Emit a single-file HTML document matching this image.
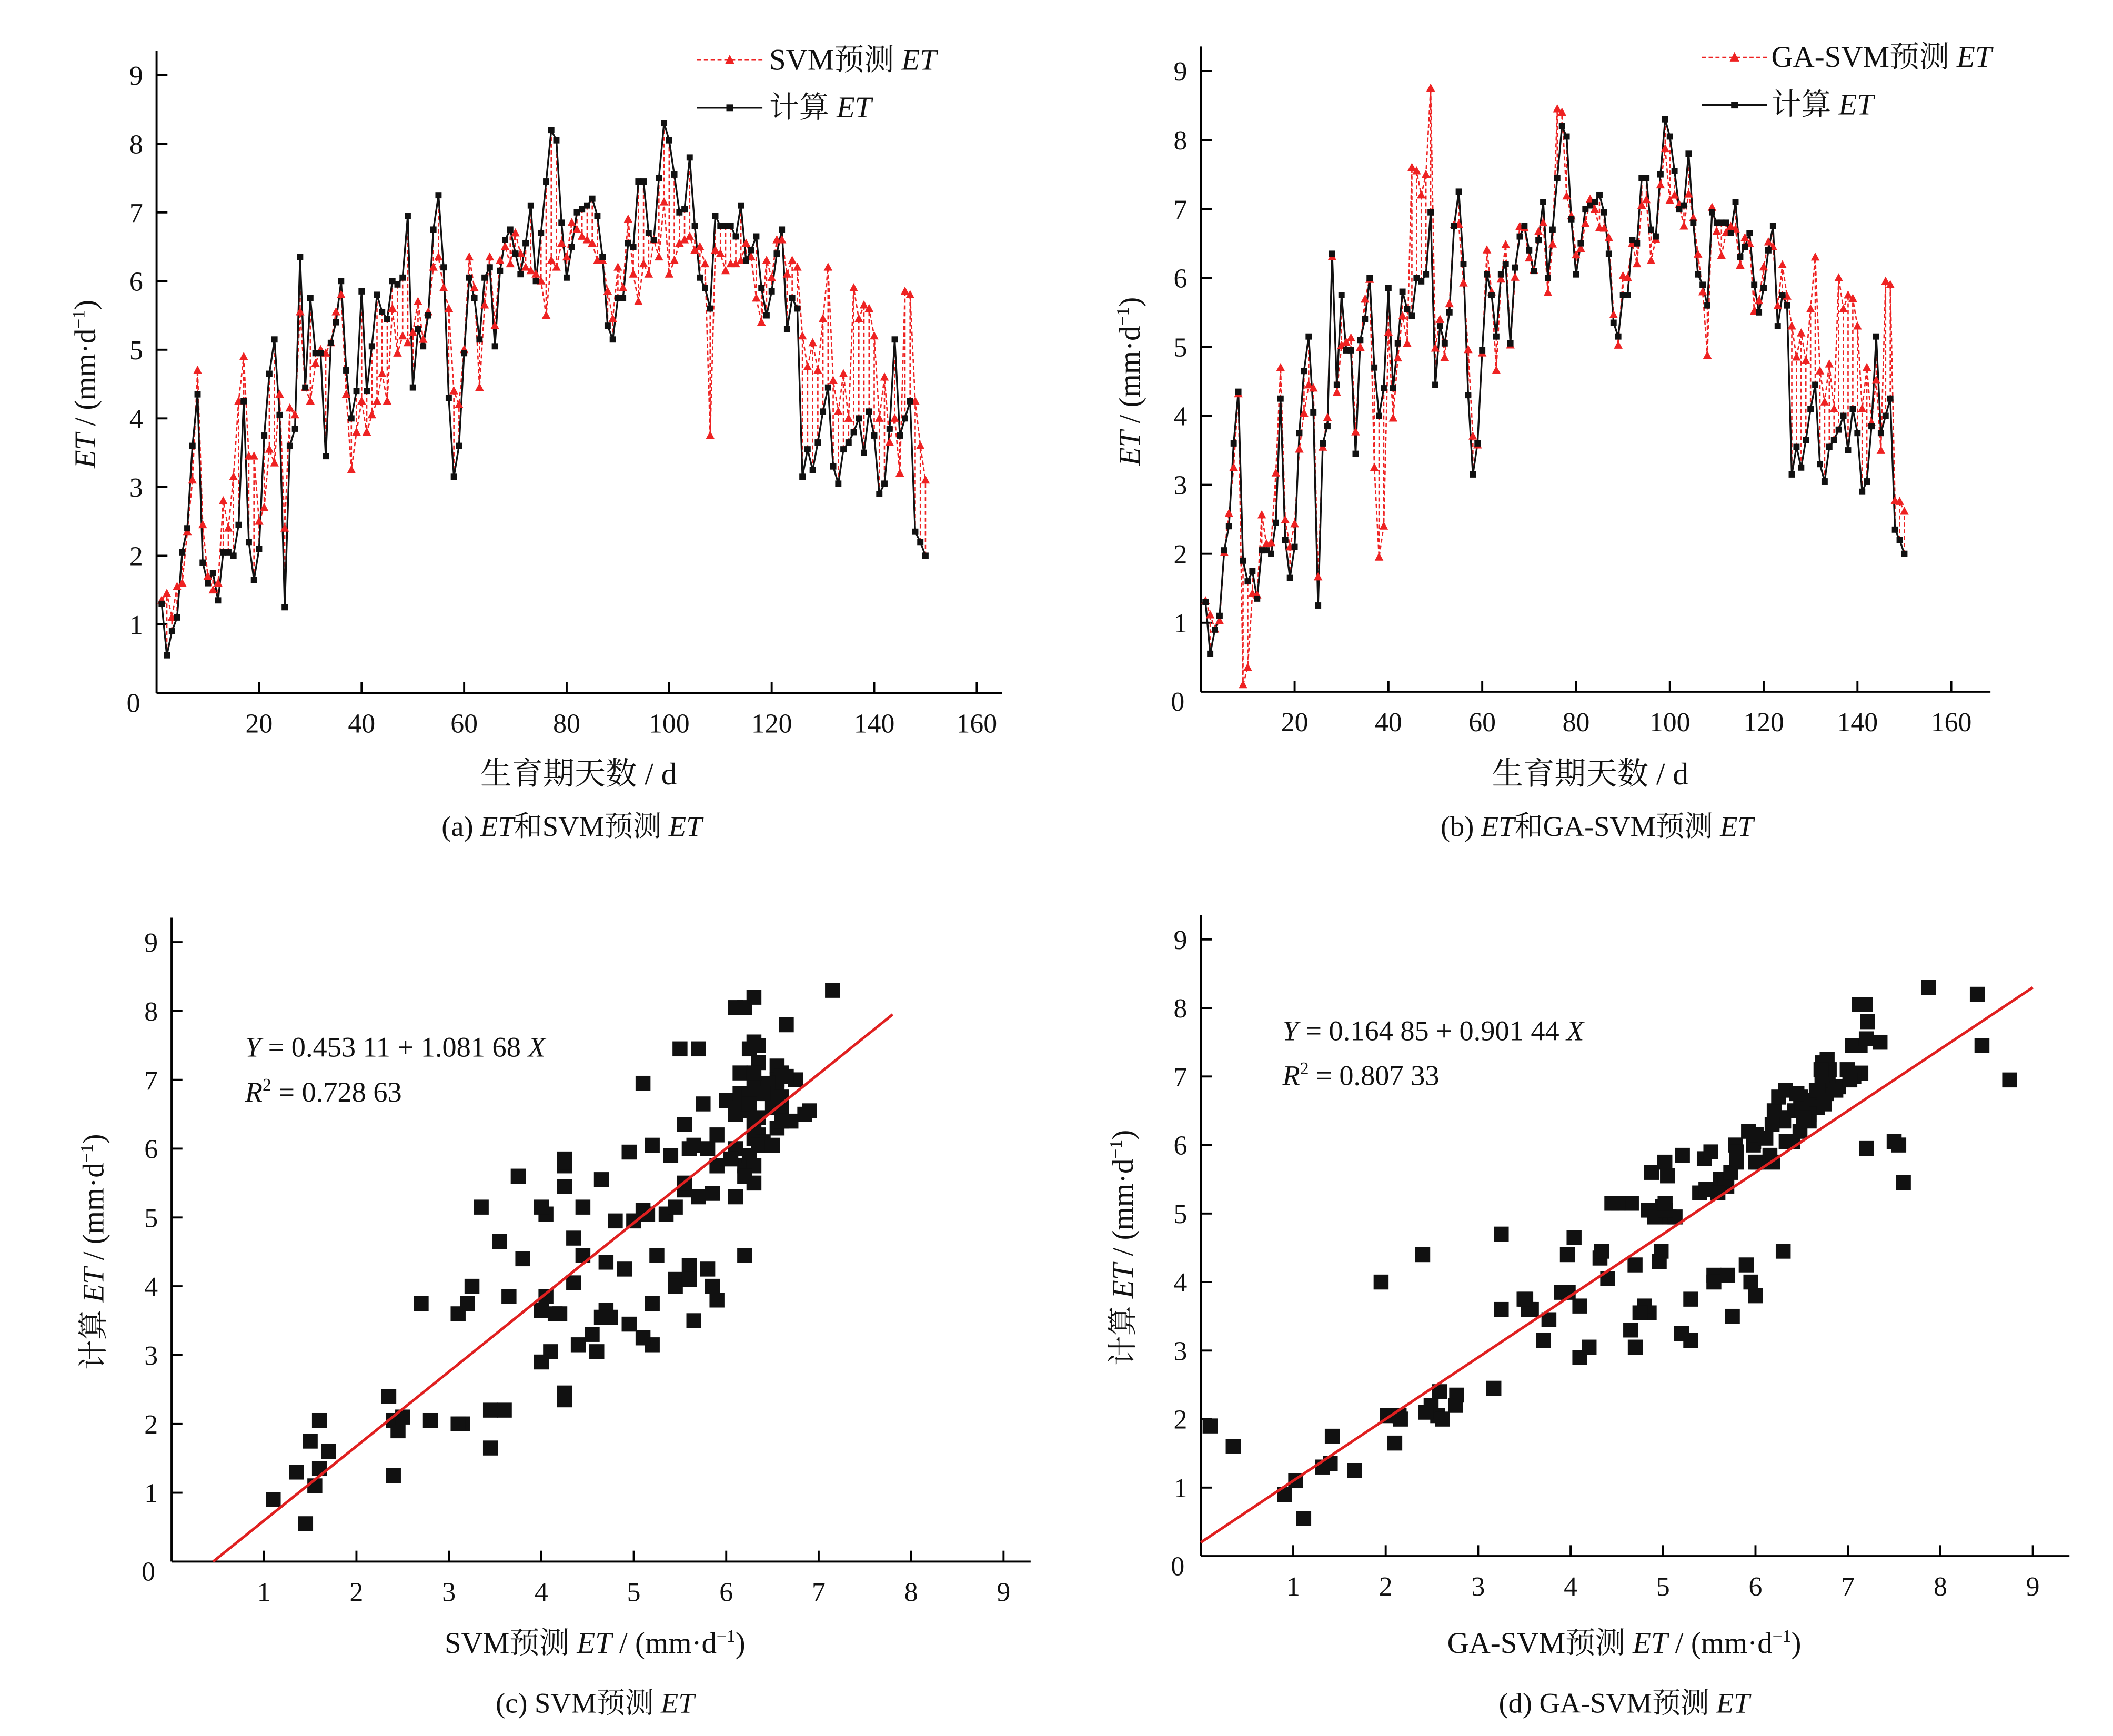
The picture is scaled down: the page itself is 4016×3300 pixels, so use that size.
<!DOCTYPE html>
<html><head><meta charset="utf-8"><style>
html,body{margin:0;padding:0;background:#fff;width:4016px;height:3300px;overflow:hidden}
svg{display:block}
text{font-family:"Liberation Serif","Noto Serif CJK SC",serif;fill:#111}
</style></head><body>
<svg id="s" width="4016" height="3300" viewBox="0 0 1552 1275" xmlns="http://www.w3.org/2000/svg"></svg>
<script>
const B=[1.3,0.55,0.9,1.1,2.05,2.4,3.6,4.35,1.9,1.6,1.75,1.35,2.05,2.05,2.0,2.45,4.25,2.2,1.65,2.1,3.75,4.65,5.15,4.05,1.25,3.6,3.85,6.35,4.45,5.75,4.95,4.95,3.45,5.1,5.4,6.0,4.7,4.0,4.4,5.85,4.4,5.05,5.8,5.55,5.45,6.0,5.95,6.05,6.95,4.45,5.3,5.05,5.5,6.75,7.25,6.2,4.3,3.15,3.6,4.95,6.05,5.75,5.15,6.05,6.2,5.05,6.15,6.6,6.75,6.4,6.1,6.55,7.1,6.0,6.7,7.45,8.2,8.05,6.85,6.05,6.5,7.0,7.05,7.1,7.2,6.95,6.35,5.35,5.15,5.75,5.75,6.55,6.5,7.45,7.45,6.7,6.6,7.5,8.3,8.05,7.55,7.0,7.05,7.8,6.8,6.05,5.9,5.6,6.95,6.8,6.8,6.8,6.65,7.1,6.3,6.45,6.65,5.9,5.5,5.85,6.4,6.75,5.3,5.75,5.6,3.15,3.55,3.25,3.65,4.1,4.45,3.3,3.05,3.55,3.65,3.8,4.0,3.5,4.1,3.75,2.9,3.05,3.85,5.15,3.75,4.0,4.25,2.35,2.2,2.0];
const S=[1.35,1.45,1.1,1.55,1.6,2.35,3.1,4.7,2.45,1.7,1.5,1.6,2.8,2.4,3.15,4.25,4.9,3.45,3.45,2.5,2.7,3.55,3.35,4.35,2.4,4.15,4.05,5.55,4.45,4.25,4.8,5.0,4.95,5.1,5.55,5.8,4.35,3.25,3.8,4.25,3.8,4.05,4.25,4.65,4.25,5.6,4.95,5.2,5.1,5.25,5.7,5.15,5.55,6.2,6.35,5.9,5.6,4.4,4.2,5.0,6.35,5.9,4.45,5.65,6.35,5.35,6.3,6.5,6.25,6.7,6.4,6.2,6.15,6.1,6.0,5.5,6.3,6.2,6.55,6.35,6.85,6.75,6.65,6.6,6.55,6.3,6.3,5.85,5.45,6.2,5.9,6.9,6.1,5.7,6.25,6.1,6.6,6.35,7.15,6.1,6.3,6.55,6.6,6.65,6.45,6.5,6.25,3.75,6.45,6.4,6.15,6.25,6.25,6.3,6.55,6.35,5.75,5.4,6.3,6.05,6.6,6.6,6.1,6.3,6.2,5.2,4.75,5.1,4.7,5.45,6.2,4.55,4.1,4.65,4.0,5.9,5.45,5.65,5.6,5.2,4.0,4.6,3.65,4.0,3.2,5.85,5.8,4.25,3.6,3.1];
const G=B.map((b,i)=>{let g=b+0.35*(S[i]-b)+0.25*Math.sin(i*1.7);return Math.max(0.1,g);});
Object.assign(G,{8:0.1,9:0.35,36:3.25,37:1.95,38:2.4,47:7.5,48:8.75,46:7.2,44:7.6,45:7.55,75:8.45,76:8.4});
for(let i=125;i<147;i++)G[i]=Math.max(G[i],S[i]+0.1);
let o='';
function T(x,y,t,sz,anc,extra){o+=`<text x="${x}" y="${y}" font-size="${sz}" text-anchor="${anc||'middle'}" ${extra||''}>${t}</text>`;}
function L(x1,y1,x2,y2,c,w,d){o+=`<line x1="${x1}" y1="${y1}" x2="${x2}" y2="${y2}" stroke="${c||'#000'}" stroke-width="${w||1.5}" ${d?`stroke-dasharray="${d}"`:''}/>`;}
function axes(ax,y0,y9,xEnd,xs,xticks){
 const sy=(y0-y9)/9;
 L(ax,y0,xEnd,y0);L(ax,y9-18,ax,y0);
 for(let k=1;k<=9;k++){let y=y0-k*sy;L(ax,y,ax+8,y);T(ax-10,y+7,k,20,'end');}
 T(ax-12,y0+14,'0',20,'end');
 xticks.forEach(v=>{let x=xs(v);L(x,y0,x,y0-8);T(x,y0+29,v,20);});
}
function ts(ax,y0,y9,xEnd,per20,R,cx){
 const sy=(y0-y9)/9,X=d=>ax+d*per20/20,Y=v=>y0-v*sy;
 axes(ax,y0,y9,xEnd,X,[20,40,60,80,100,120,140,160]);
 for(let i=0;i<150;i++)L(X(i+1),Y(B[i]),X(i+1),Y(R[i]),'#e22',1,'3,2');
 o+=`<polyline fill="none" stroke="#e22" stroke-width="1" stroke-dasharray="3,2" points="${R.map((v,i)=>X(i+1)+','+Y(v)).join(' ')}"/>`;
 o+=`<polyline fill="none" stroke="#111" stroke-width="1.3" points="${B.map((v,i)=>X(i+1)+','+Y(v)).join(' ')}"/>`;
 R.forEach((v,i)=>{let x=X(i+1),y=Y(v);o+=`<polygon points="${x},${y-3.5} ${x-3.2},${y+2.5} ${x+3.2},${y+2.5}" fill="#e22"/>`;});
 B.forEach((v,i)=>{let x=X(i+1),y=Y(v);o+=`<rect x="${x-2.3}" y="${y-2.3}" width="4.6" height="4.6" fill="#111"/>`;});
 T(ax-45,(y0+y9)/2,'<tspan font-style="italic">ET</tspan> / (mm·d<tspan font-size="13" dy="-8">−1</tspan><tspan dy="8">)</tspan>',22,'middle',`transform="rotate(-90 ${ax-45} ${(y0+y9)/2})"`);
 T(cx,576,'生育期天数 / d',23);
}
ts(115,509,55,736,75.3,S,425);
let lx=512;L(lx,44,lx+48,44,'#e22',1,'3,2');o+=`<polygon points="${lx+24},40 ${lx+20.5},47 ${lx+27.5},47" fill="#e22"/>`;
T(lx+53,51,'SVM预测 <tspan font-style="italic">ET</tspan>',22,'start');
L(lx,79,lx+48,79,'#111',1.3);o+=`<rect x="${lx+21.5}" y="76.5" width="5" height="5" fill="#111"/>`;
T(lx+53,86,'计算 <tspan font-style="italic">ET</tspan>',22,'start');
T(420,614,'(a) <tspan font-style="italic">ET</tspan>和SVM预测 <tspan font-style="italic">ET</tspan>',21);
ts(882,508,52,1462,68.9,G,1168);
lx=1250;L(lx,42,lx+48,42,'#e22',1,'3,2');o+=`<polygon points="${lx+24},38 ${lx+20.5},45 ${lx+27.5},45" fill="#e22"/>`;
T(lx+51,49,'GA-SVM预测 <tspan font-style="italic">ET</tspan>',22,'start');
L(lx,77,lx+48,77,'#111',1.3);o+=`<rect x="${lx+21.5}" y="74.5" width="5" height="5" fill="#111"/>`;
T(lx+51,84,'计算 <tspan font-style="italic">ET</tspan>',22,'start');
T(1173,614,'(b) <tspan font-style="italic">ET</tspan>和GA-SVM预测 <tspan font-style="italic">ET</tspan>',21);
function sc(ax,y0,y9,xEnd,perx,P,line,eq,r2,ex,ey,xlab,cap,cx){
 const sy=(y0-y9)/9,X=v=>ax+v*perx,Y=v=>y0-v*sy;
 axes(ax,y0,y9,xEnd,X,[1,2,3,4,5,6,7,8,9]);
 P.forEach(([a,b])=>{o+=`<rect x="${X(a)-5.5}" y="${Y(b)-5.5}" width="11" height="11" fill="#111"/>`;});
 L(X(line[0]),Y(line[1]),X(line[2]),Y(line[3]),'#e02020',2);
 T(ex,ey,eq,21,'start');T(ex,ey+33,'<tspan font-style="italic">R</tspan><tspan font-size="13" dy="-8">2</tspan><tspan dy="8"> = '+r2+'</tspan>',21,'start');
 T(ax-50,(y0+y9)/2,'计算 <tspan font-style="italic">ET</tspan> / (mm·d<tspan font-size="13" dy="-8">−1</tspan><tspan dy="8">)</tspan>',22,'middle',`transform="rotate(-90 ${ax-50} ${(y0+y9)/2})"`);
 T(cx,1214,xlab,22);T(cx,1258,cap,21);
}
sc(126,1147,692,757,67.9,S.map((v,i)=>[v,B[i]]),[0.45,0,7.8,7.95],
 '<tspan font-style="italic">Y</tspan> = 0.453 11 + 1.081 68 <tspan font-style="italic">X</tspan>','0.728 63',180,776,
 'SVM预测 <tspan font-style="italic">ET</tspan> / (mm·d<tspan font-size="13" dy="-8">−1</tspan><tspan dy="8">)</tspan>','(c) SVM预测 <tspan font-style="italic">ET</tspan>',437);
sc(882,1143,690,1520,67.9,G.map((v,i)=>[v,B[i]]),[0,0.2,9,8.3],
 '<tspan font-style="italic">Y</tspan> = 0.164 85 + 0.901 44 <tspan font-style="italic">X</tspan>','0.807 33',942,764,
 'GA-SVM预测 <tspan font-style="italic">ET</tspan> / (mm·d<tspan font-size="13" dy="-8">−1</tspan><tspan dy="8">)</tspan>','(d) GA-SVM预测 <tspan font-style="italic">ET</tspan>',1193);
document.getElementById('s').innerHTML=o;
</script>
</body></html>
